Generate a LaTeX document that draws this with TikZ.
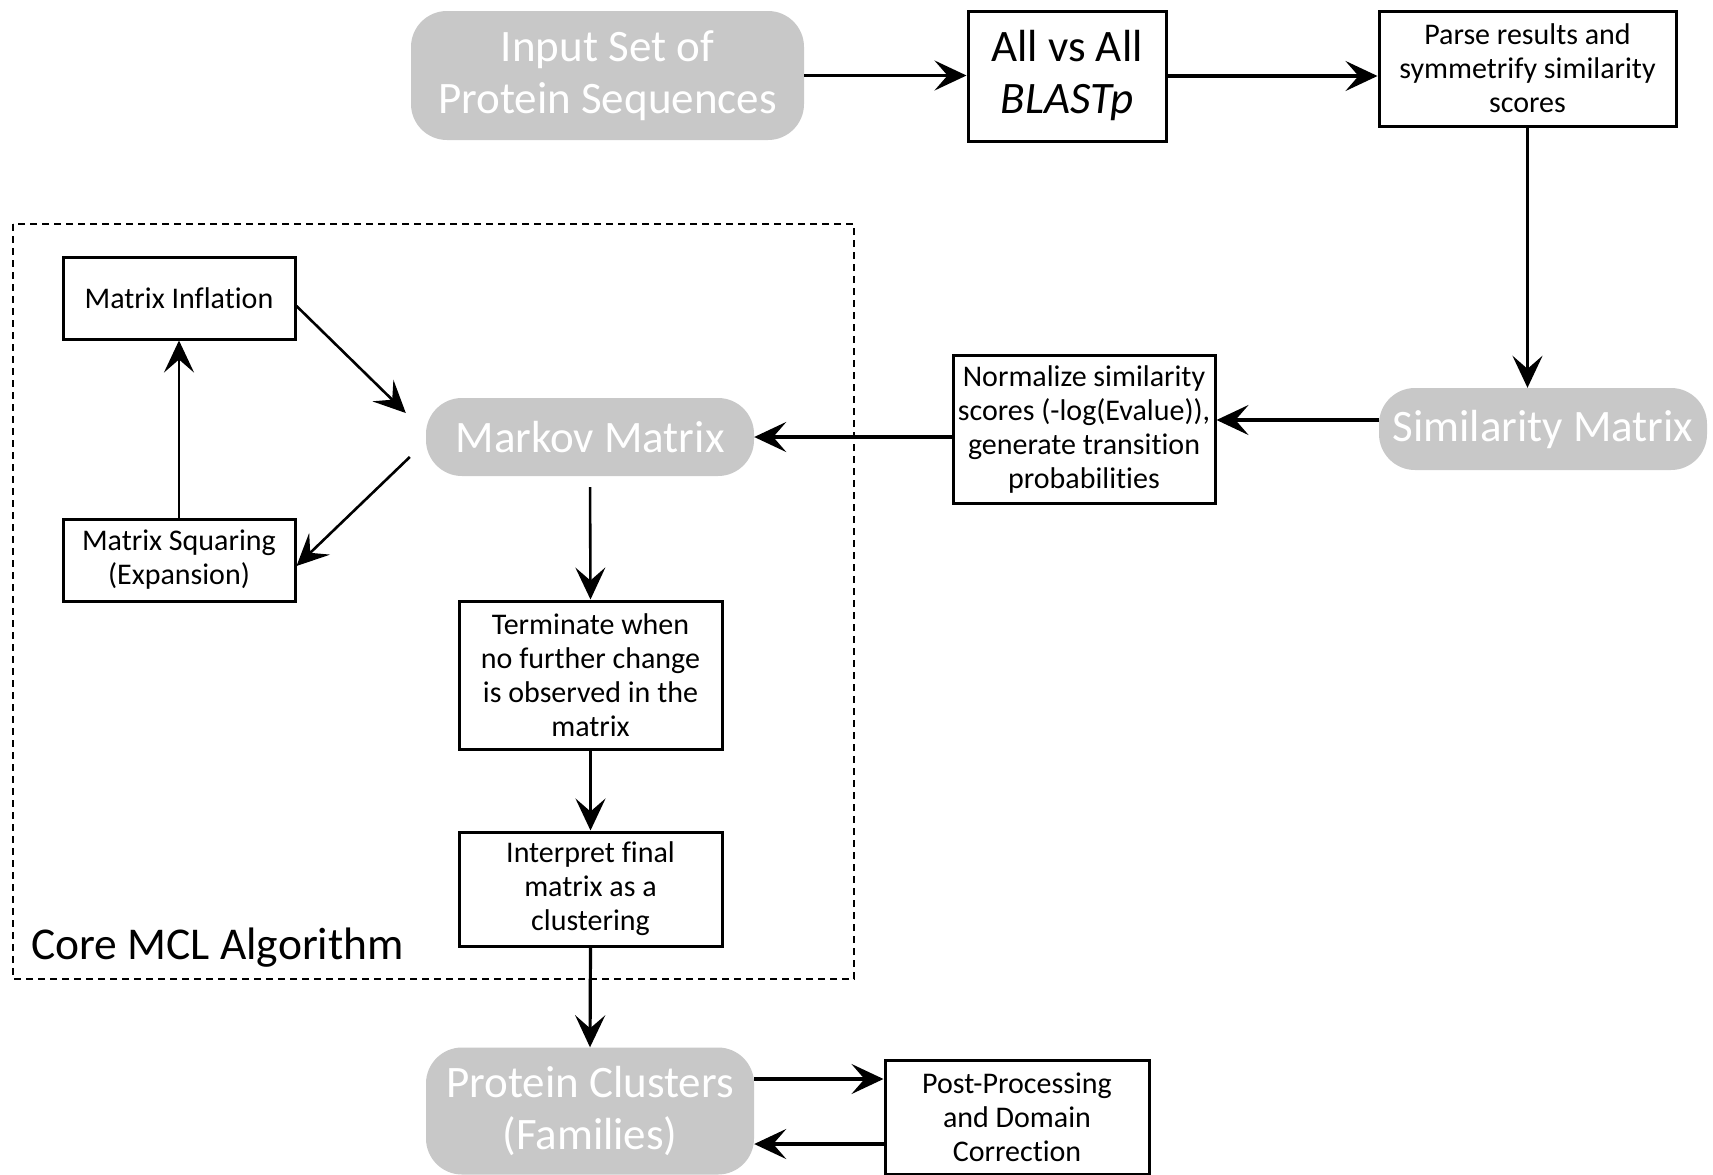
\documentclass[tikz,border=0pt]{standalone}
\usepackage{fontspec}
\setmainfont{Carlito}[Ligatures={NoCommon}]
\usetikzlibrary{arrows.meta}
\definecolor{pillgray}{RGB}{200,200,200}
\begin{document}
\begin{tikzpicture}[x=1pt,y=-1pt,
  pill/.style={fill=pillgray, text=white, rounded corners=36pt, align=center, inner sep=0pt, font=\fontsize{45}{52}\selectfont},
  box/.style={draw, line width=3pt, align=center, inner sep=0pt, font=\fontsize{30}{34}\selectfont},
  arr/.style={line width=3.2pt, -{Stealth[length=32pt,width=30pt,inset=13pt]}},
  thinarr/.style={line width=2.6pt, -{Stealth[length=32pt,width=30pt,inset=13pt]}},
]
\useasboundingbox (0,0) rectangle (1713,1175);
\fill[white] (0,0) rectangle (1713,1175);

% dashed frame
\draw[line width=2pt, dash pattern=on 7pt off 5pt] (13,224) rectangle (854,979);
\node[anchor=west, font=\fontsize{45.5}{48}\selectfont, inner sep=0pt] (core) at (31,948) {Core MCL Algorithm};

% top row
\node[pill, minimum width=393pt, minimum height=129pt] (inp) at (607.5,75.5) {Input Set of\\Protein Sequences};
\node[box, minimum width=198pt, minimum height=130pt, font=\fontsize{45}{52}\selectfont] (blast) at (1067,76) {All vs All\\\textit{BLASTp}};
\node[box, minimum width=297pt, minimum height=115pt] (parse) at (1527.5,68.5) {Parse results and\\symmetrify similarity\\scores};

% middle row
\node[pill, minimum width=328pt, minimum height=82pt] (sim) at (1543,429) {Similarity Matrix};
\node[box, minimum width=262pt, minimum height=148pt] (norm) at (1084,429) {Normalize similarity\\scores (-log(Evalue)),\\generate transition\\probabilities};
\node[pill, minimum width=328pt, minimum height=78pt] (markov) at (590,437) {Markov Matrix};

% loop
\node[box, minimum width=232pt, minimum height=82pt] (infl) at (179,298) {Matrix Inflation};
\node[box, minimum width=232pt, minimum height=82pt] (squar) at (179,560) {Matrix Squaring\\(Expansion)};

% down chain
\node[box, minimum width=263pt, minimum height=148pt] (term) at (590.5,675) {Terminate when\\no further change\\is observed in the\\matrix};
\node[box, minimum width=263pt, minimum height=114pt] (interp) at (590.5,889) {Interpret final\\matrix as a\\clustering};
\node[pill, minimum width=328pt, minimum height=127pt] (clus) at (590,1111) {Protein Clusters\\(Families)};
\node[box, minimum width=264pt, minimum height=114pt] (post) at (1017,1117) {Post-Processing\\and Domain\\Correction};

% connectors
\draw[arr] (inp.east) -- (inp.east -| blast.west);
\draw[arr] (blast.east) -- (blast.east -| parse.west);
\draw[arr] (parse.south) -- (parse.south |- sim.north);
\draw[arr] ([yshift=9pt]sim.west) -- ([yshift=9pt]sim.west -| norm.east);
\draw[arr] (markov.east -| norm.west) -- (markov.east);
\draw[thinarr] ([yshift=-8pt]infl.east) -- ([xshift=-20pt,yshift=24pt]markov.west);
\draw[thinarr] ([xshift=-16pt,yshift=-20pt]markov.west) -- ([yshift=-6pt]squar.east);
\draw[thinarr] (squar.north) -- (infl.south);
\draw[thinarr, shorten <=11pt] (markov.south) -- (term.north);
\draw[arr] (term.south) -- (interp.north);
\draw[arr] (interp.south) -- (clus.north);
\draw[arr] ([yshift=32pt]clus.east) -- ([yshift=32pt]clus.east -| post.west);
\draw[arr] ([yshift=-27pt]post.west) -- ([yshift=-27pt]post.west -| clus.east);
\end{tikzpicture}
\end{document}
